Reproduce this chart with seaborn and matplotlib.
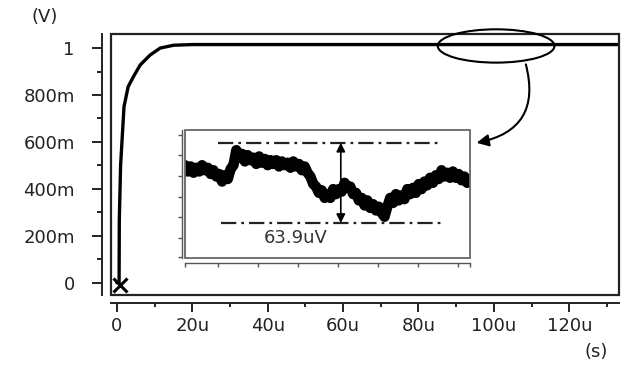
import numpy as np
import pandas as pd
import matplotlib.pyplot as plt
import seaborn as sns
from matplotlib.patches import Ellipse, Rectangle

sns.set_style("ticks")
plt.rcParams["font.family"] = ["DejaVu Sans"]
plt.rcParams["lines.scale_dashes"] = False

# main step response (time in us, volts)
step_t = [0, 0.6, 0.66, 1.0, 1.9, 3.0, 4.4, 6.2, 8.8, 11.5, 15, 20, 133]
step_v = [0, 0.0, 0.27, 0.5, 0.75, 0.835, 0.878, 0.928, 0.97, 1.0, 1.012, 1.015, 1.015]

x_ticks = [0, 20, 40, 60, 80, 100, 120]
x_labels = ["0", "20u", "40u", "60u", "80u", "100u", "120u"]
y_ticks = [0, 0.2, 0.4, 0.6, 0.8, 1.0]
y_labels = ["0", "200m", "400m", "600m", "800m", "1"]

# zoomed ripple on the flat top (uV above the lower marker line)
ripple_uv = [46, 41, 45, 40, 44, 41, 46, 42, 44, 39, 42,
             37, 39, 33, 38, 35, 43, 46, 58, 52, 55,
             49, 54, 50, 52, 47, 53, 48, 51, 46, 50,
             47, 50, 45, 49, 46, 48, 44, 49, 45, 47,
             42, 45, 40, 37, 31, 29, 24, 26, 20, 23,
             20, 27, 23, 27, 25, 32, 28, 29, 23, 24,
             18, 20, 14, 18, 12, 15, 10, 13, 8, 5,
             13, 20, 16, 23, 18, 22, 19, 27, 23, 28,
             24, 31, 27, 33, 30, 36, 32, 38, 35, 42,
             37, 40, 36, 41, 36, 39, 34, 37, 32, 35]
ripple_pp = 63.9

fig = plt.figure(figsize=(6.28, 3.72), dpi=100)
ax = fig.add_axes([0.176, 0.2083, 0.8097, 0.7003])

df = pd.DataFrame({"t": step_t, "v": step_v})
sns.lineplot(data=df, x="t", y="v", ax=ax, color="black", lw=2.4,
             estimator=None, sort=False)
ax.plot([0.85], [-0.01], marker="x", ms=10, mew=2.2, color="black",
        clip_on=False, zorder=6)

ax.set_xlim(-1.67, 133.2)
ax.set_ylim(-0.0503, 1.06)
ax.set_xticks(x_ticks)
ax.set_xticklabels(x_labels)
ax.set_xticks(np.arange(10, 131, 20), minor=True)
ax.set_yticks(y_ticks)
ax.set_yticklabels(y_labels)
ax.set_yticks(np.arange(0.1, 1.0, 0.2), minor=True)
ax.set_xlabel("")
ax.set_ylabel("")

for side in ["top", "right"]:
    ax.spines[side].set_visible(False)
ax.spines["left"].set_position(("outward", 5.8))
ax.spines["bottom"].set_position(("outward", 5.8))
for side in ["left", "bottom"]:
    ax.spines[side].set_linewidth(1.4)
    ax.spines[side].set_color("#222222")
ax.tick_params(axis="y", which="major", length=7, width=1.4, pad=13,
               labelsize=13, colors="#222222")
ax.tick_params(axis="y", which="minor", length=3.5, width=1.4, colors="#222222")
ax.tick_params(axis="x", which="major", length=6.5, width=1.4, pad=4,
               labelsize=13, colors="#222222")
ax.tick_params(axis="x", which="minor", length=3, width=1.4, colors="#222222")
ax.add_patch(Rectangle((0, 0), 1, 1, transform=ax.transAxes, fill=False,
                       lw=1.6, ec="#222222", clip_on=False, zorder=5))

fig.text(0.0717, 0.954, "(V)", fontsize=13, ha="center", va="center", color="#222222")
fig.text(0.949, 0.054, "(s)", fontsize=13, ha="center", va="center", color="#222222")

# ellipse around the flat part and curved pointer to the inset
ax.add_patch(Ellipse((100.6, 1.009), 30.95, 0.142, fill=False, lw=1.5,
                     ec="black", clip_on=False, zorder=6))
ax.annotate("", xy=(94.7, 0.594), xytext=(108.3, 0.942),
            arrowprops=dict(arrowstyle="-|>", color="black", lw=1.5,
                            mutation_scale=18,
                            connectionstyle="arc3,rad=-0.55"))

# inset
ins = fig.add_axes([0.2946, 0.3065, 0.4538, 0.344])
rip = pd.DataFrame({"k": np.linspace(-0.825, 6.3, len(ripple_uv)), "uv": ripple_uv})
sns.lineplot(data=rip, x="k", y="uv", ax=ins, color="black", lw=7.5,
             estimator=None, sort=False)
ins.set_xlim(-0.825, 6.3)
ins.set_ylim(-27.8, 74)
dash = (0, (11, 3.6, 2, 3.6))
ins.hlines([ripple_pp], 0.0, 5.575, colors="#222222", lw=1.6, linestyles=[dash])
ins.hlines([0], 0.075, 5.65, colors="#222222", lw=1.6, linestyles=[dash])
ins.annotate("", xy=(3.07, ripple_pp), xytext=(3.07, 0),
             arrowprops=dict(arrowstyle="<|-|>", color="black", lw=1.2,
                             mutation_scale=13, shrinkA=0, shrinkB=0))
ins.text(1.95, -11.9, f"{ripple_pp}uV", fontsize=13, ha="center", va="center",
         color="#333333")
ins.set_xticks([-0.825, 0, 1, 2, 3, 4, 5, 6, 6.3])
ins.set_yticks([69.8, 53.9, 37.3, 20.6, 4.8, -11.9, -27.0])
ins.set_xticklabels([])
ins.set_yticklabels([])
ins.set_xlabel("")
ins.set_ylabel("")
for side in ["top", "right"]:
    ins.spines[side].set_visible(False)
ins.spines["left"].set_position(("outward", 2.2))
ins.spines["bottom"].set_position(("outward", 3.6))
for side in ["left", "bottom"]:
    ins.spines[side].set_linewidth(1.0)
    ins.spines[side].set_color("#555555")
ins.tick_params(length=3, width=1.0, colors="#555555")
ins.add_patch(Rectangle((0, 0), 1, 1, transform=ins.transAxes, fill=False,
                        lw=1.3, ec="#666666", clip_on=False, zorder=5))

fig.savefig("out.png", dpi=100)
